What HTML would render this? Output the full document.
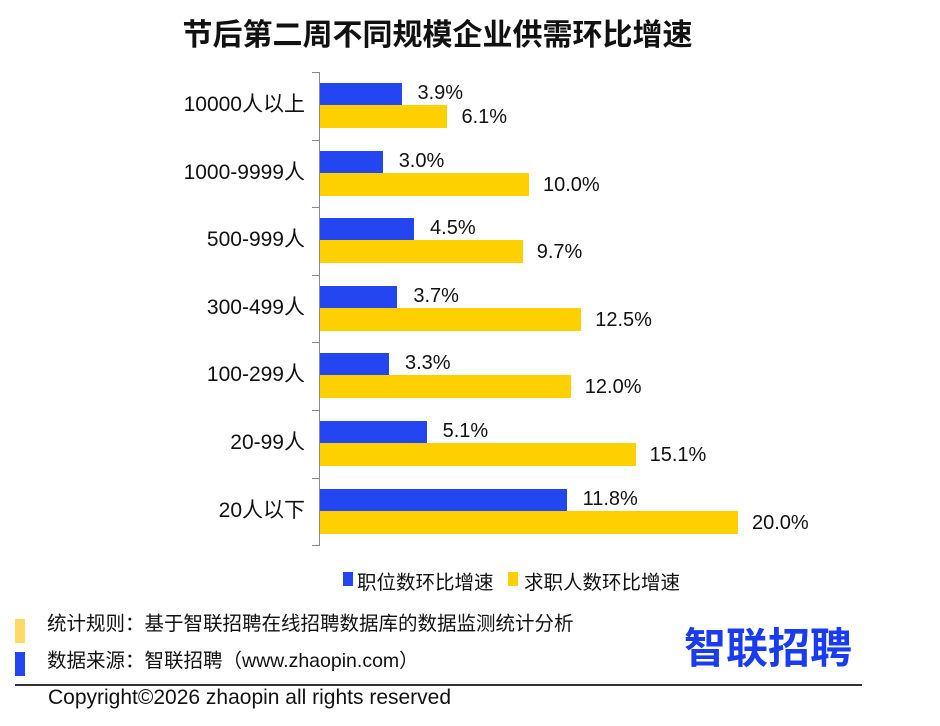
<!DOCTYPE html>
<html><head><meta charset="utf-8"><style>
body{margin:0;width:940px;height:726px;background:#fff;position:relative;overflow:hidden;font-family:"Liberation Sans","Noto Sans CJK SC",sans-serif;color:#111}
div{position:absolute}
#g{left:0;top:0;width:940px;height:726px}
.b{background:#2446f0;height:22px;left:320px}
.y{background:#ffd000;height:23px;left:320px}
.v{font-size:20px;line-height:22px;white-space:nowrap}
.c{font-size:21px;right:635px;text-align:right;white-space:nowrap;line-height:24px}
.t{height:1px;width:8px;left:312px;background:#888}
</style></head><body>
<div style="left:0;width:875px;top:10px;text-align:center;font-size:30px;font-weight:bold;font-family:'Noto Sans CJK SC',sans-serif">节后第二周不同规模企业供需环比增速</div>
<div style="left:319px;top:72px;width:1px;height:474px;background:#888"></div>
<div id="g"></div>
<script>
var cats=["10000人以上","1000-9999人","500-999人","300-499人","100-299人","20-99人","20人以下"];
var bl=[3.9,3.0,4.5,3.7,3.3,5.1,11.8],ye=[6.1,10.0,9.7,12.5,12.0,15.1,20.0];
var h="",s=20.9;
for(var i=0;i<=7;i++){h+='<div class="t" style="top:'+(72+i*67.6).toFixed(1)+'px"></div>';}
for(var i=0;i<7;i++){var t=72+11+i*67.6;
var wb=bl[i]*s,wy=ye[i]*s;
h+='<div class="b" style="top:'+t+'px;width:'+wb+'px"></div>';
h+='<div class="y" style="top:'+(t+22)+'px;width:'+wy+'px"></div>';
h+='<div class="v" style="top:'+(t-1)+'px;left:'+(320+wb+16)+'px">'+bl[i].toFixed(1)+'%</div>';
h+='<div class="v" style="top:'+(t+23)+'px;left:'+(320+wy+14)+'px">'+ye[i].toFixed(1)+'%</div>';
h+='<div class="c" style="top:'+(t+10)+'px">'+cats[i]+'</div>';}
document.getElementById("g").innerHTML=h;
</script>
<div style="left:343px;top:572px;width:10px;height:14px;background:#2446f0"></div>
<div style="left:357px;top:566px;font-size:19.5px">职位数环比增速</div>
<div style="left:508px;top:572px;width:10px;height:14px;background:#ffd000"></div>
<div style="left:524px;top:566px;font-size:19.5px">求职人数环比增速</div>
<div style="left:15px;top:619px;width:10px;height:24px;background:#ffd966"></div>
<div style="left:15px;top:652px;width:10px;height:24px;background:#2446f0"></div>
<div style="left:47px;top:607px;font-size:19.5px">统计规则：基于智联招聘在线招聘数据库的数据监测统计分析</div>
<div style="left:47px;top:644px;font-size:19.5px">数据来源：智联招聘（www.zhaopin.com）</div>
<div style="left:684px;top:618px;font-size:42px;font-weight:bold;color:#1a3cf0;font-family:'Noto Sans CJK SC',sans-serif;line-height:56px">智联招聘</div>
<div style="left:15px;top:684px;width:847px;height:2px;background:#333"></div>
<div style="left:48px;top:686px;font-size:21px">Copyright©2026 zhaopin all rights reserved</div>
</body></html>
